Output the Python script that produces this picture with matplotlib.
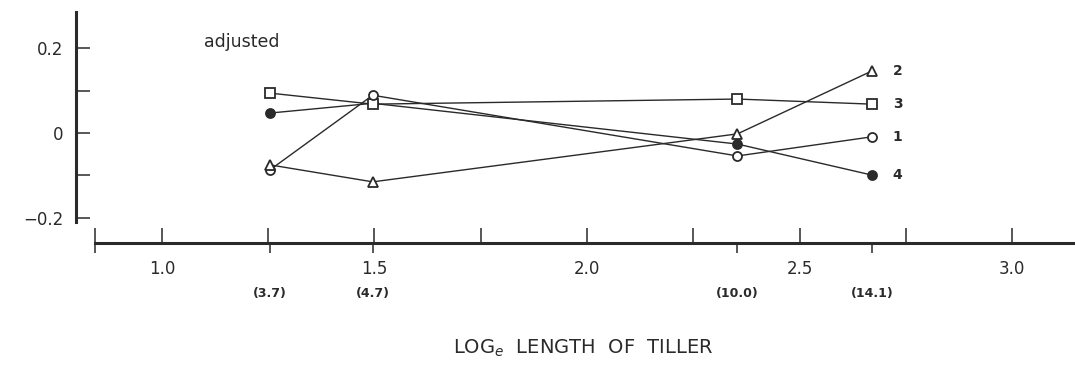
import matplotlib
matplotlib.use("Agg")
import matplotlib.pyplot as plt
from matplotlib.ticker import FixedLocator, FixedFormatter

# tiller length positions (log_e) and the lengths written under them
x_pos = [1.254, 1.496, 2.354, 2.670]
len_labels = ["(3.7)", "(4.7)", "(10.0)", "(14.1)"]

# adjusted values for the four series
s1 = [-0.087, 0.089, -0.054, -0.009]   # open circle
s2 = [-0.075, -0.115, -0.002, 0.146]   # triangle
s3 = [0.094, 0.068, 0.080, 0.068]      # square
s4 = [0.047, 0.070, -0.026, -0.099]    # filled circle

x_ticks = [1.0, 1.25, 1.5, 1.75, 2.0, 2.25, 2.5, 2.75, 3.0]
x_tick_labels = ["1.0", "", "1.5", "", "2.0", "", "2.5", "", "3.0"]
y_ticks = [-0.2, -0.1, 0.0, 0.1, 0.2]
y_tick_labels = ["\u22120.2", "", "0", "", "0.2"]

x_start, x_end = 0.842, 3.148
ink = "#2a2a2a"

W, H = 1075, 370
fig = plt.figure(figsize=(W / 100, H / 100), dpi=100)
ax = fig.add_axes([76 / W, 1 - 243 / H, 999 / W, 231 / H])
ax.set_xlim(0.798, x_end)
ax.set_ylim(-0.259, 0.285)
ax.patch.set_alpha(0)

# filled circles first so the squares cover them where they meet
series = [
    (s4, "o", ink, "4"),
    (s3, "s", "white", "3"),
    (s1, "o", "white", "1"),
    (s2, "^", "white", "2"),
]
for vals, mk, face, name in series:
    ax.plot(x_pos, vals, color=ink, lw=1.0, marker=mk, ms=6.5,
            mfc=face, mec=ink, mew=1.3, zorder=3)
    ax.annotate(name, (x_pos[-1], vals[-1]), xytext=(15, 0),
                textcoords="offset points", va="center", ha="left",
                fontsize=10, fontweight="bold", color=ink)

for side in ["top", "right"]:
    ax.spines[side].set_visible(False)
ax.spines["left"].set_bounds(-0.209, 0.285)
ax.spines["bottom"].set_bounds(x_start, x_end)
for side in ["left", "bottom"]:
    ax.spines[side].set_linewidth(2.2)
    ax.spines[side].set_color(ink)

ax.yaxis.set_major_locator(FixedLocator(y_ticks))
ax.yaxis.set_major_formatter(FixedFormatter(y_tick_labels))
ax.tick_params(axis="y", direction="in", length=10, width=1.1,
               color=ink, labelsize=12, labelcolor=ink, pad=9)

ax.xaxis.remove_overlapping_locs = False
ax.xaxis.set_major_locator(FixedLocator([x_start] + x_ticks))
ax.xaxis.set_major_formatter(FixedFormatter([""] + x_tick_labels))
ax.xaxis.set_minor_locator(FixedLocator([x_start] + x_pos))
ax.xaxis.set_minor_formatter(FixedFormatter([""] + len_labels))
ax.tick_params(axis="x", which="major", direction="in", length=11,
               width=1.1, color=ink, labelsize=12, labelcolor=ink, pad=12)
ax.tick_params(axis="x", which="minor", direction="out", length=7,
               width=1.1, color=ink, labelsize=9, labelcolor=ink, pad=25)
for lab in ax.xaxis.get_minorticklabels():
    lab.set_fontweight("bold")

ax.text(0.166, 0.87, "adjusted", transform=ax.transAxes, ha="center",
        va="center", fontsize=12.5, color=ink)

fig.text(583 / W, 1 - 348 / H, "LOG$_e$  LENGTH  OF  TILLER", ha="center",
         va="center", fontsize=14, color=ink)

fig.savefig("out.png", dpi=100)
